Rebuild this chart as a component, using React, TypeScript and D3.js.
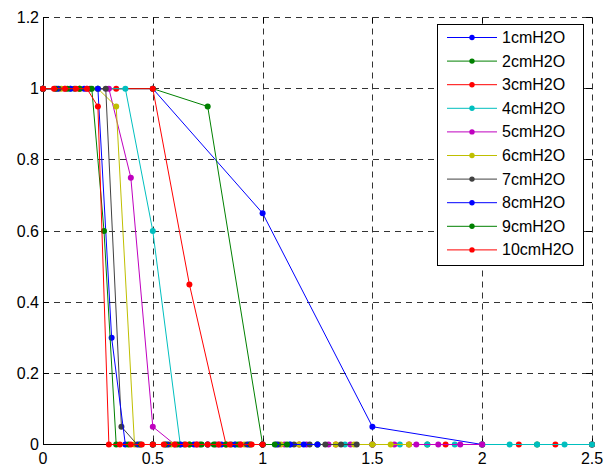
import { useEffect, useRef } from "react";
import * as d3 from "d3";

// series names and the sample spacing on the x axis for each one
const seriesNames = [
  "1cmH2O", "2cmH2O", "3cmH2O", "4cmH2O", "5cmH2O",
  "6cmH2O", "7cmH2O", "8cmH2O", "9cmH2O", "10cmH2O",
];
const xSteps = [1 / 2, 1 / 4, 1 / 6, 1 / 8, 1 / 10, 1 / 12, 1 / 14, 1 / 16, 1 / 18, 1 / 20];

// y values, 21 samples per series
const y1 = [1, 1, 0.65, 0.05, 0, 0, 0, 0, 0, 0, 0, 0, 0, 0, 0, 0, 0, 0, 0, 0, 0];
const y2 = [1, 1, 1, 0.95, 0, 0, 0, 0, 0, 0, 0, 0, 0, 0, 0, 0, 0, 0, 0, 0, 0];
const y3 = [1, 1, 1, 1, 0.45, 0, 0, 0, 0, 0, 0, 0, 0, 0, 0, 0, 0, 0, 0, 0, 0];
const y4 = [1, 1, 1, 1, 0.6, 0, 0, 0, 0, 0, 0, 0, 0, 0, 0, 0, 0, 0, 0, 0, 0];
const y5 = [1, 1, 1, 1, 0.75, 0.05, 0, 0, 0, 0, 0, 0, 0, 0, 0, 0, 0, 0, 0, 0, 0];
const y6 = [1, 1, 1, 1, 0.95, 0, 0, 0, 0, 0, 0, 0, 0, 0, 0, 0, 0, 0, 0, 0, 0];
const y7 = [1, 1, 1, 1, 1, 0.05, 0, 0, 0, 0, 0, 0, 0, 0, 0, 0, 0, 0, 0, 0, 0];
const y8 = [1, 1, 1, 1, 1, 0.3, 0, 0, 0, 0, 0, 0, 0, 0, 0, 0, 0, 0, 0, 0, 0];
const y9 = [1, 1, 1, 1, 1, 0.6, 0, 0, 0, 0, 0, 0, 0, 0, 0, 0, 0, 0, 0, 0, 0];
const y10 = [1, 1, 1, 1, 1, 0.95, 0, 0, 0, 0, 0, 0, 0, 0, 0, 0, 0, 0, 0, 0, 0];
const yValues = [y1, y2, y3, y4, y5, y6, y7, y8, y9, y10];

const colors = [
  "#0000ff", "#008000", "#ff0000", "#00bfbf", "#bf00bf",
  "#bfbf00", "#404040", "#0000ff", "#008000", "#ff0000",
];

const xTicks = [0, 0.5, 1, 1.5, 2, 2.5];
const yTicks = [0, 0.2, 0.4, 0.6, 0.8, 1, 1.2];

const W = 608, H = 467;
const left = 43, right = 592, top = 17.5, bottom = 444.5;
const font = "'Liberation Sans', Arial, Helvetica, sans-serif";

export default function App() {
  const ref = useRef(null);

  useEffect(() => {
    const svg = d3.select(ref.current);
    svg.selectAll("*").remove();

    const x = d3.scaleLinear().domain([0, 2.5]).range([left, right]);
    const y = d3.scaleLinear().domain([0, 1.2]).range([bottom, top]);

    svg.append("rect").attr("width", W).attr("height", H).attr("fill", "white");

    svg.append("defs").append("clipPath").attr("id", "plotclip")
      .append("rect")
      .attr("x", left).attr("y", top - 5)
      .attr("width", right - left).attr("height", bottom - top + 10);

    // grid
    const grid = svg.append("g")
      .attr("stroke", "#333")
      .attr("stroke-width", 1)
      .attr("stroke-dasharray", "6,5");
    grid.selectAll("line.gx").data(xTicks.slice(1)).join("line")
      .attr("class", "gx")
      .attr("x1", d => Math.round(x(d)) + 0.5).attr("x2", d => Math.round(x(d)) + 0.5)
      .attr("y1", top).attr("y2", bottom);
    grid.selectAll("line.gy").data(yTicks.slice(1)).join("line")
      .attr("class", "gy")
      .attr("y1", d => Math.floor(y(d)) + 0.5).attr("y2", d => Math.floor(y(d)) + 0.5)
      .attr("x1", left).attr("x2", right);

    // axes lines
    svg.append("line")
      .attr("x1", left + 0.5).attr("x2", left + 0.5)
      .attr("y1", top).attr("y2", bottom)
      .attr("stroke", "black");
    svg.append("line")
      .attr("x1", left).attr("x2", right)
      .attr("y1", bottom).attr("y2", bottom)
      .attr("stroke", "black");

    // ticks
    const tk = 6;
    const ticks = svg.append("g").attr("stroke", "black").attr("stroke-width", 1);
    xTicks.forEach(t => {
      const px = Math.round(x(t)) + 0.5;
      ticks.append("line").attr("x1", px).attr("x2", px).attr("y1", bottom).attr("y2", bottom - tk);
      ticks.append("line").attr("x1", px).attr("x2", px).attr("y1", top).attr("y2", top + tk);
    });
    yTicks.forEach(t => {
      const py = Math.floor(y(t)) + 0.5;
      ticks.append("line").attr("x1", left).attr("x2", left + tk).attr("y1", py).attr("y2", py);
      ticks.append("line").attr("x1", right).attr("x2", right - tk).attr("y1", py).attr("y2", py);
    });

    // tick labels
    svg.append("g").selectAll("text").data(xTicks).join("text")
      .attr("x", d => x(d)).attr("y", 464)
      .attr("text-anchor", "middle")
      .attr("font-family", font).attr("font-size", 16)
      .text(d => String(d));
    svg.append("g").selectAll("text").data(yTicks).join("text")
      .attr("x", 39).attr("y", d => y(d))
      .attr("text-anchor", "end")
      .attr("dominant-baseline", "central")
      .attr("font-family", font).attr("font-size", 16)
      .text(d => String(d));

    // series
    const line = d3.line<[number, number]>().x(d => x(d[0])).y(d => y(d[1]));
    const layer = svg.append("g");
    yValues.forEach((vals, i) => {
      const pts: [number, number][] = vals.map((v, k) => [k * xSteps[i], v]);
      layer.append("path")
        .attr("d", line(pts))
        .attr("fill", "none")
        .attr("stroke", colors[i])
        .attr("stroke-width", 1)
        .attr("clip-path", "url(#plotclip)");
      layer.append("g").selectAll("circle")
        .data(pts.filter(p => p[0] <= 2.5 + 1e-9)).join("circle")
        .attr("cx", d => x(d[0])).attr("cy", d => y(d[1]))
        .attr("r", 3)
        .attr("fill", colors[i]);
    });

    // legend
    const lg = svg.append("g");
    lg.append("rect")
      .attr("x", 437.5).attr("y", 24.5)
      .attr("width", 146).attr("height", 241)
      .attr("fill", "white").attr("stroke", "black");
    seriesNames.forEach((name, i) => {
      const ly = 37.5 + i * 23.6;
      lg.append("line")
        .attr("x1", 447).attr("x2", 497).attr("y1", ly).attr("y2", ly)
        .attr("stroke", colors[i]);
      lg.append("circle").attr("cx", 472).attr("cy", ly).attr("r", 2.7).attr("fill", colors[i]);
      lg.append("text")
        .attr("x", 502).attr("y", ly)
        .attr("dominant-baseline", "central")
        .attr("font-family", font).attr("font-size", 16)
        .text(name);
    });
  }, []);

  return (
    <svg
      ref={ref}
      width={W}
      height={H}
      style={{ position: "absolute", left: 0, top: 0 }}
    />
  );
}
